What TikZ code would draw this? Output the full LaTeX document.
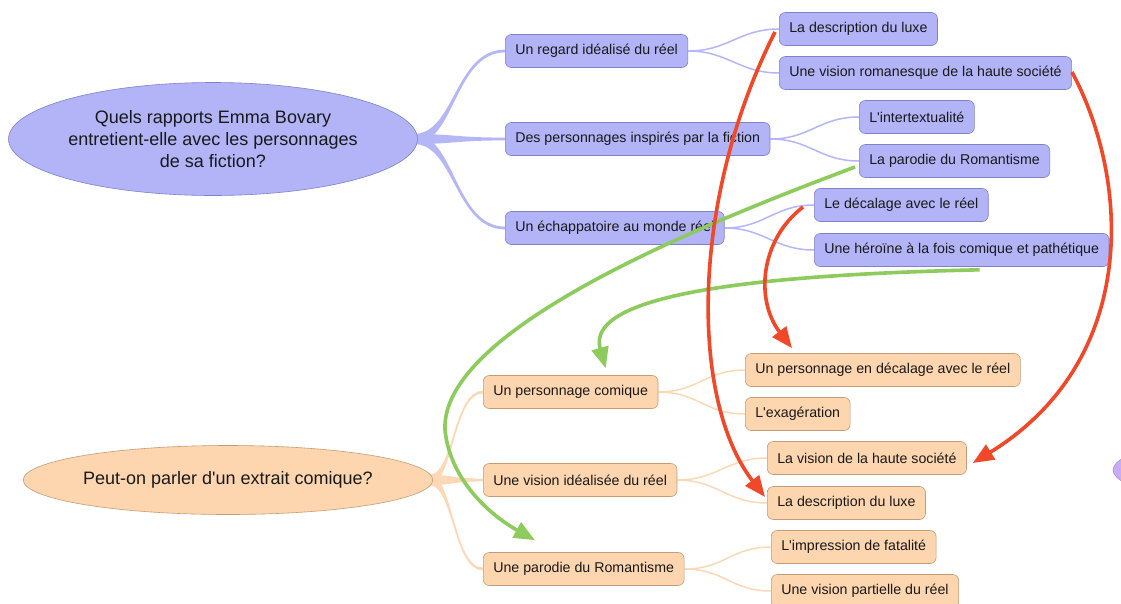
\documentclass[tikz,border=0pt]{standalone}
\usepackage{fontspec}
\setmainfont{Liberation Sans}[Ligatures=TeXOff]
\usetikzlibrary{arrows.meta,calc,backgrounds,shapes.geometric}
\definecolor{blueFill}{RGB}{178,180,247}
\definecolor{blueLine}{RGB}{128,130,200}
\definecolor{blueBranch}{RGB}{180,182,248}
\definecolor{orFill}{RGB}{253,214,176}
\definecolor{orLine}{RGB}{196,156,118}
\definecolor{orBranch}{RGB}{253,216,182}
\definecolor{purFill}{RGB}{202,172,245}
\definecolor{purLine}{RGB}{160,130,210}
\definecolor{arrRed}{RGB}{240,72,40}
\definecolor{arrGreen}{RGB}{141,203,92}
\definecolor{txt}{RGB}{25,25,25}
\newcommand{\taper}[3]{%
  \fill[#1] let \p1=(#2), \p2=(#3), \n1={\x1+0.45*(\x2-\x1)} in
   (\x1,\y1+5pt) .. controls (\n1,\y1+5pt) and (\n1,\y2+1.4pt) .. (\x2,\y2+1.4pt)
   -- (\x2,\y2-1.4pt) .. controls (\n1,\y2-1.4pt) and (\n1,\y1-5pt) .. (\x1,\y1-5pt) -- cycle;}
\begin{document}
\begin{tikzpicture}[x=1pt,y=-1pt,
  box/.style={rounded corners=6pt, minimum height=33pt, inner xsep=10pt, inner ysep=0pt,
    anchor=west, text=txt, line width=0.6pt, font=\fontsize{14.2}{16}\selectfont},
  bbox/.style={box, fill=blueFill, draw=blueLine},
  obox/.style={box, fill=orFill, draw=orLine},
  rootnode/.style={ellipse, inner sep=0pt, align=center, text=txt, line width=0.6pt,
    font=\fontsize{18}{22}\selectfont},
  bthin/.style={draw=blueBranch, line width=1.5pt},
  othin/.style={draw=orBranch, line width=1.5pt},
  redarr/.style={draw=arrRed, line width=3.6pt, -{Triangle[length=21pt,width=17pt]}},
  grnarr/.style={draw=arrGreen, line width=3.6pt, -{Triangle[length=21pt,width=17pt]}}]
\useasboundingbox (0,0) rectangle (1121,603);
\clip (0,0) rectangle (1121,603);
% roots
\node[rootnode, fill=blueFill, draw=blueLine, minimum width=406pt, minimum height=113pt] (root1) at (213,139)
  {Quels rapports Emma Bovary\\entretient-elle avec les personnages\\de sa fiction?};
\node[rootnode, fill=orFill, draw=orLine, minimum width=335pt, minimum height=69pt] (root2) at (228,480)
  {Peut-on parler d'un extrait comique?};
\node[ellipse, fill=purFill, draw=purLine, minimum width=340pt, minimum height=70pt] (root3) at (1283,470) {};
% blue level 1
\node[bbox] (r1) at (505,51) {Un regard idéalisé du réel};
\node[bbox] (r2) at (505,139) {Des personnages inspirés par la fiction};
\node[bbox] (r3) at (505,228) {Un échappatoire au monde réel};
% blue level 2
\node[bbox] (r11) at (779,29) {La description du luxe};
\node[bbox] (r12) at (779,73) {Une vision romanesque de la haute société};
\node[bbox] (r21) at (859,117) {L'intertextualité};
\node[bbox] (r22) at (859,161) {La parodie du Romantisme};
\node[bbox] (r31) at (814,205) {Le décalage avec le réel};
\node[bbox] (r32) at (814,250) {Une héroïne à la fois comique et pathétique};
% orange level 1
\node[obox] (o1) at (483,392) {Un personnage comique};
\node[obox] (o2) at (483,480) {Une vision idéalisée du réel};
\node[obox] (o3) at (483,569) {Une parodie du Romantisme};
% orange level 2
\node[obox] (o11) at (745,370) {Un personnage en décalage avec le réel};
\node[obox] (o12) at (745,414) {L'exagération};
\node[obox] (o21) at (767,458) {La vision de la haute société};
\node[obox] (o22) at (767,503) {La description du luxe};
\node[obox] (o31) at (771,547) {L'impression de fatalité};
\node[obox] (o32) at (771,591) {Une vision partielle du réel};
% connectors under nodes
\begin{scope}[on background layer]
  \fill[white] (0,0) rectangle (1121,603);
  \taper{blueBranch}{$(root1.east)+(-4,0)$}{r1.west}
  \taper{blueBranch}{$(root1.east)+(-4,0)$}{r2.west}
  \taper{blueBranch}{$(root1.east)+(-4,0)$}{r3.west}
  \taper{orBranch}{$(root2.east)+(-4,0)$}{o1.west}
  \taper{orBranch}{$(root2.east)+(-4,0)$}{o2.west}
  \taper{orBranch}{$(root2.east)+(-4,0)$}{o3.west}
  \foreach \p/\c in {r1/r11, r1/r12, r2/r21, r2/r22, r3/r31, r3/r32}
    \draw[bthin] (\p.east) .. controls +(40,0) and +(-40,0) .. (\c.west);
  \foreach \p/\c in {o1/o11, o1/o12, o2/o21, o2/o22, o3/o31, o3/o32}
    \draw[othin] (\p.east) .. controls +(40,0) and +(-40,0) .. (\c.west);
\end{scope}
% cross links
\coordinate (gturn) at (445,430);
\draw[grnarr] ($(r22.west)+(-4,6)$) .. controls (700,225) and (440,330) .. (gturn)
  .. controls (450,480) and (490,515) .. ($(o3.north west)+(52,-12)$);
\draw[grnarr] ($(r32.south)+(18,3)$) .. controls (750,275) and (585,295) .. ($(o1.north)+(35,-7)$);
\draw[redarr] ($(r11.west)+(-4,3)$) .. controls (690,200) and (690,400) .. ($(o22.west)+(-2,-6)$);
\draw[redarr] ($(r12.east)+(0,-1)$) .. controls (1130,180) and (1140,360) .. ($(o21.east)+(6,5)$);
\draw[redarr] ($(r31.west)+(-11,2)$) .. controls (760,240) and (755,300) .. ($(o11.north west)+(47,-5)$);
\end{tikzpicture}
\end{document}
